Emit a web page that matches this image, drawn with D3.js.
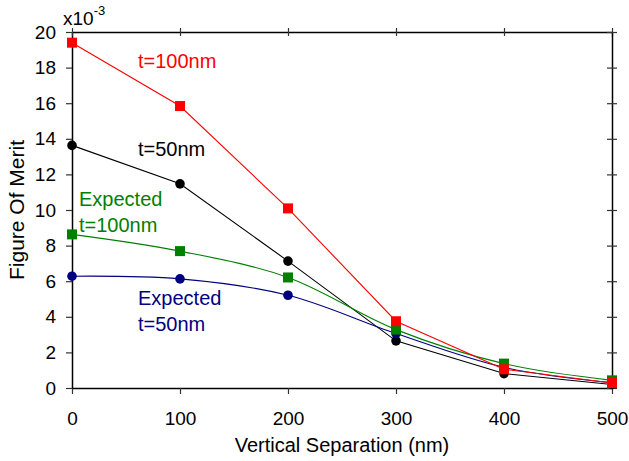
<!DOCTYPE html>
<html>
<head>
<meta charset="utf-8">
<script src="https://cdn.jsdelivr.net/npm/d3@7"></script>
<style>
    body { margin: 0; background: #fff; }
    text { font-family: "Liberation Sans", Arial, sans-serif; }
</style>
</head>
<body>
<div id="chart-area"></div>
<script>
// data (figure of merit, x10^-3)
let separations = [0, 100, 200, 300, 400, 500];
let meritT100 = [19.4, 15.84, 10.09, 3.75, 1.05, 0.28];
let meritT50 = [13.63, 11.47, 7.13, 2.65, 0.81, 0.2];
let expectedT100 = [8.63, 7.69, 6.21, 3.28, 1.37, 0.43];
let expectedT50 = [6.28, 6.13, 5.21, 3.06, 1.16, 0.3];
let xTicks = [0, 100, 200, 300, 400, 500];
let yTicks = [0, 2, 4, 6, 8, 10, 12, 14, 16, 18, 20];

class meritChart {

    constructor(parentElement) {
        this.parentElement = parentElement;
        this.initVis();
    }

    initVis() {
        let vis = this;

        vis.margin = {top: 32, right: 17, bottom: 73, left: 72};
        vis.width = 629 - vis.margin.left - vis.margin.right;
        vis.height = 461 - vis.margin.top - vis.margin.bottom;

        vis.svg = d3.select("#" + vis.parentElement).append("svg")
            .attr("width", 629)
            .attr("height", 461)
            .append("g")
            .attr("transform", `translate(${vis.margin.left}, ${vis.margin.top})`);

        // Scales and axes
        vis.xScale = d3.scaleLinear().domain([0, 500]).range([0, vis.width]);
        vis.yScale = d3.scaleLinear().domain([0, 20]).range([vis.height, 0]);

        vis.xAxis = d3.axisBottom(vis.xScale).tickValues(xTicks).tickSize(6).tickPadding(18).tickSizeOuter(0);
        vis.yAxis = d3.axisLeft(vis.yScale).tickValues(yTicks).tickSize(6).tickPadding(10).tickSizeOuter(0);
        vis.xAxisTop = d3.axisTop(vis.xScale).tickValues(xTicks).tickSize(4).tickFormat("").tickSizeOuter(0);
        vis.yAxisRight = d3.axisRight(vis.yScale).tickValues(yTicks).tickSize(5).tickFormat("").tickSizeOuter(0);

        vis.svg.append("g").attr("class", "x-axis axis")
            .attr("transform", "translate(0," + vis.height + ")")
            .call(vis.xAxis);
        vis.svg.append("g").attr("class", "y-axis axis")
            .call(vis.yAxis);
        vis.svg.append("g").attr("class", "x-axis-top axis")
            .call(vis.xAxisTop)
            .selectAll(".tick line").attr("y2", 4).attr("y1", -4);
        vis.svg.append("g").attr("class", "y-axis-right axis")
            .attr("transform", "translate(" + vis.width + ",0)")
            .call(vis.yAxisRight)
            .selectAll(".tick line").attr("x1", -5).attr("x2", 5);

        vis.svg.selectAll(".axis path").attr("stroke", "#000").attr("stroke-width", 1.5);
        vis.svg.selectAll(".axis .tick line").attr("stroke", "#333").attr("stroke-width", 1.2);
        vis.svg.selectAll(".axis text")
            .attr("fill", "#000")
            .style("font-size", "19px")
            .style("font-family", "'Liberation Sans', Arial, sans-serif");

        // Labels
        vis.svg.append("text")
            .text("Vertical Separation (nm)")
            .attr("x", vis.width / 2)
            .attr("y", vis.height + 64)
            .attr("text-anchor", "middle")
            .attr("font-size", "20px");
        vis.svg.append("text")
            .text("Figure Of Merit")
            .attr("transform", `translate(${24 - vis.margin.left}, ${vis.height / 2}) rotate(-90)`)
            .attr("text-anchor", "middle")
            .attr("font-size", "21px");
        let mult = vis.svg.append("text")
            .attr("x", 63 - vis.margin.left)
            .attr("y", 25 - vis.margin.top)
            .attr("font-size", "19px")
            .text("x10");
        mult.append("tspan")
            .attr("dy", -10)
            .attr("font-size", "13px")
            .text("-3");

        vis.series = [
            {name: "t50", values: meritT50, color: "#000000", marker: "circle", curve: d3.curveLinear},
            {name: "exp50", values: expectedT50, color: "#000080", marker: "circle", curve: d3.curveCatmullRom},
            {name: "exp100", values: expectedT100, color: "#008000", marker: "square", curve: d3.curveCatmullRom},
            {name: "t100", values: meritT100, color: "#ff0000", marker: "square", curve: d3.curveLinear}
        ];

        vis.lines_group = vis.svg.append("g").attr("class", "lines");
        vis.marks_group = vis.svg.append("g").attr("class", "marks");

        vis.annotations = [
            {text: "t=100nm", x: 138, y: 68, color: "#ff0000"},
            {text: "t=50nm", x: 138, y: 156, color: "#000000"},
            {text: "Expected", x: 79, y: 206, color: "#008000"},
            {text: "t=100nm", x: 79, y: 232, color: "#008000"},
            {text: "Expected", x: 138, y: 305, color: "#000080"},
            {text: "t=50nm", x: 138, y: 331, color: "#000080"}
        ];

        vis.svg.append("g").attr("class", "annotations")
            .selectAll("text")
            .data(vis.annotations)
            .enter().append("text")
            .attr("x", d => d.x - vis.margin.left)
            .attr("y", d => d.y - vis.margin.top)
            .attr("fill", d => d.color)
            .attr("font-size", "20px")
            .text(d => d.text);

        this.updateVis();
    }

    updateVis() {
        let vis = this;

        vis.series.forEach(function (s) {
            let pts = separations.map((x, i) => ({x: x, y: s.values[i]}));
            let line = d3.line()
                .x(d => vis.xScale(d.x))
                .y(d => vis.yScale(d.y))
                .curve(s.curve);

            vis.lines_group.append("path")
                .datum(pts)
                .attr("d", line)
                .attr("fill", "none")
                .attr("stroke", s.color)
                .attr("stroke-width", 1.1);
        });

        vis.series.forEach(function (s) {
            let pts = separations.map((x, i) => ({x: x, y: s.values[i]}));
            let g = vis.marks_group.append("g").attr("class", s.name);
            if (s.marker === "circle") {
                g.selectAll("circle").data(pts).enter().append("circle")
                    .attr("cx", d => vis.xScale(d.x))
                    .attr("cy", d => vis.yScale(d.y))
                    .attr("r", 4.8)
                    .attr("fill", s.color);
            } else {
                g.selectAll("rect").data(pts).enter().append("rect")
                    .attr("x", d => vis.xScale(d.x) - 5)
                    .attr("y", d => vis.yScale(d.y) - 5)
                    .attr("width", 10)
                    .attr("height", 10)
                    .attr("fill", s.color);
            }
        });
    }
}

let main_chart = new meritChart("chart-area");
</script>
</body>
</html>
